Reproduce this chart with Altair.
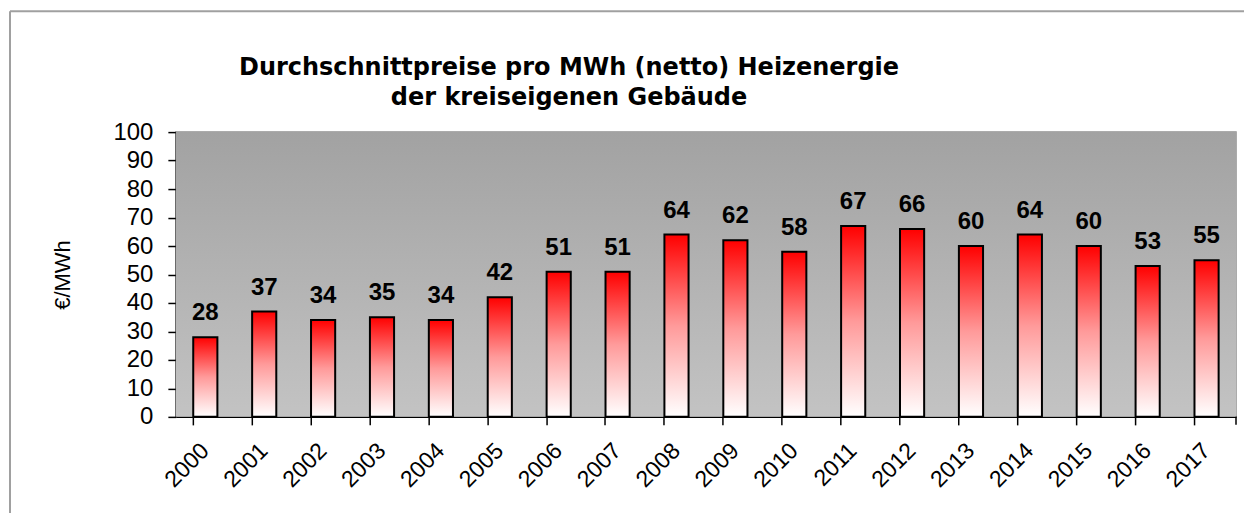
import altair as alt
import pandas as pd

years = [str(y) for y in range(2000, 2018)]
prices = [28, 37, 34, 35, 34, 42, 51, 51, 64, 62, 58, 67, 66, 60, 64, 60, 53, 55]

title_lines = ["Durchschnittpreise pro MWh (netto) Heizenergie", "der kreiseigenen Gebäude"]
y_title = "€/MWh"

df = pd.DataFrame({"Jahr": years, "Preis": prices})

W, H = 1061, 285
FONT = "Liberation Sans"

bg_gradient = alt.LinearGradient(
    gradient="linear", x1=0, y1=0, x2=0, y2=1,
    stops=[alt.GradientStop(offset=0, color="#a2a2a2"),
           alt.GradientStop(offset=1, color="#c3c3c3")],
)
bar_gradient = alt.LinearGradient(
    gradient="linear", x1=0, y1=0, x2=0, y2=1,
    stops=[alt.GradientStop(offset=0, color="#ff0000"),
           alt.GradientStop(offset=0.5, color="#ff9a9a"),
           alt.GradientStop(offset=1, color="#ffffff")],
)

x_enc = alt.X(
    "Jahr:N", sort=years, title=None,
    scale=alt.Scale(paddingInner=0.59, paddingOuter=0.295),
    axis=alt.Axis(labelAngle=-45, labelFontSize=23, labelFont=FONT, labelColor="black",
                  labelAlign="right", labelBaseline="middle", labelPadding=22,
                  labelOverlap=False,
                  tickColor="black", tickSize=8, tickWidth=1.5, domainColor="black",
                  domainWidth=1.5, bandPosition=0),
)
y_enc = alt.Y(
    "Preis:Q", title=y_title,
    scale=alt.Scale(domain=[0, 100], nice=False),
    axis=alt.Axis(values=list(range(0, 101, 10)), labelFontSize=24, labelFont=FONT,
                  labelColor="black", tickColor="black", tickSize=8, tickWidth=1.5,
                  labelOverlap=False,
                  domainColor="black", domainWidth=1.5, grid=False, labelPadding=15,
                  titleFont=FONT, titleFontSize=22, titleFontWeight="normal",
                  titleColor="black", titlePadding=38),
)

background = alt.Chart(alt.Data(values=[{}])).mark_rect(fill=bg_gradient).encode(
    x=alt.value(0), x2=alt.value("width"), y=alt.value(0), y2=alt.value("height")
)

bars = alt.Chart(df).mark_bar(fill=bar_gradient, stroke="black", strokeWidth=2).encode(
    x=x_enc, y=y_enc
)

labels = alt.Chart(df).mark_text(
    font=FONT, fontSize=24, fontWeight="bold", color="black", baseline="alphabetic", dy=-17
).encode(x=x_enc, y=y_enc, text="Preis:Q")

end_tick = alt.Chart(alt.Data(values=[{}])).mark_rule(color="black", strokeWidth=1.5).encode(
    x=alt.value(W), y=alt.value(H), y2=alt.value(H + 8)
)

frame_left = alt.Chart(alt.Data(values=[{}])).mark_rule(color="#a0a0a0", strokeWidth=2).encode(
    x=alt.value(-166), y=alt.value(-121), y2=alt.value(H + 110)
)
frame_top = alt.Chart(alt.Data(values=[{}])).mark_rule(color="#a0a0a0", strokeWidth=2).encode(
    x=alt.value(-166), x2=alt.value(W + 30), y=alt.value(-121)
)

chart = alt.layer(background, bars, labels, end_tick, frame_left, frame_top).properties(
    width=W, height=H,
    title=alt.TitleParams(text=title_lines, font="DejaVu Sans", fontSize=24, fontWeight="bold",
                          color="black", anchor="middle", dx=-137, dy=100, offset=0,
                          lineHeight=30),
    autosize=alt.AutoSizeParams(type="none"),
    padding={"left": 168, "top": 124, "right": 8, "bottom": 96},
).configure_view(stroke="#909090", strokeWidth=1.5)

chart.save("out.html", embed_options={"renderer": "svg", "actions": False})
